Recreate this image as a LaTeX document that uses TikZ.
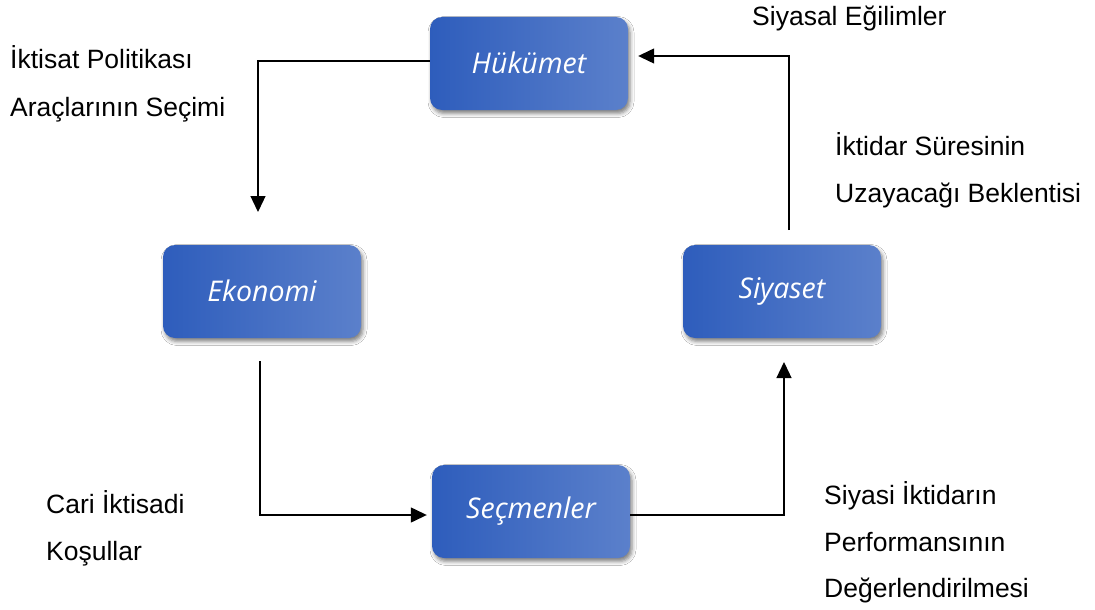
\documentclass[tikz,border=0pt]{standalone}
\usepackage{fontspec}
\setmainfont{Liberation Sans}
\newfontfamily\boxfont{Open Sans}
\usetikzlibrary{arrows.meta,shadows.blur}
\definecolor{boxL}{HTML}{2E5DBC}
\definecolor{boxR}{HTML}{5B80CB}
\begin{document}
\begin{tikzpicture}[x=1pt,y=-1pt,
  block/.style={rounded corners=12pt, minimum width=198pt, minimum height=93pt,
    left color=boxL, right color=boxR, draw=none, text=white,
    font=\boxfont\itshape\fontsize{28.5}{32}\selectfont,
    blur shadow={shadow xshift=2pt, shadow yshift=-3.5pt, shadow blur radius=4pt, shadow opacity=50}},
  lbl/.style={anchor=base west, inner sep=0pt, font=\fontsize{26.5}{30}\selectfont},
  link/.style={line width=1.3pt, -{Triangle[width=15pt,length=16pt]}}
]
\fill[white] (0,0) rectangle (1095,610);
\useasboundingbox (0,0) rectangle (1095,610);

% the four stages of the cycle
\node[block] (huk) at (529,63.5) {\raisebox{2pt}{Hükümet}};
\node[block] (eko) at (262,291.5) {\raisebox{2pt}{Ekonomi}};
\node[block] (siy) at (782,291.5) {\raisebox{2pt}{Siyaset}};
\node[block] (sec) at (531,511.5) {\raisebox{2pt}{Seçmenler}};

% free ends of the connectors
\coordinate (ekoIn) at (258,212);
\coordinate (ekoOut) at (260,361);
\coordinate (siyIn) at (784,362);
\coordinate (siyOut) at (789,230);

% connectors
\draw[link] ([yshift=2.5pt]huk.west) -| (ekoIn);
\draw[link, shorten >=5pt] (ekoOut) |- ([yshift=-3.5pt]sec.west);
\draw[link] ([yshift=-3.5pt]sec.east) -| (siyIn);
\draw[link, shorten >=10pt] (siyOut) |- ([yshift=7.5pt]huk.east);

% labels
\node[lbl] (l1) at (752,26) {Siyasal Eğilimler};
\node[lbl] (l2a) at (10,69) {İktisat Politikası};
\node[lbl] (l2b) at (10,116) {Araçlarının Seçimi};
\node[lbl] (l3a) at (835,155) {İktidar Süresinin};
\node[lbl] (l3b) at (835,202) {Uzayacağı Beklentisi};
\node[lbl] (l4a) at (46,513) {Cari İktisadi};
\node[lbl] (l4b) at (46,560) {Koşullar};
\node[lbl] (l5a) at (824,504) {Siyasi İktidarın};
\node[lbl] (l5b) at (824,551) {Performansının};
\node[lbl] (l5c) at (824,597) {Değerlendirilmesi};
\end{tikzpicture}
\end{document}
